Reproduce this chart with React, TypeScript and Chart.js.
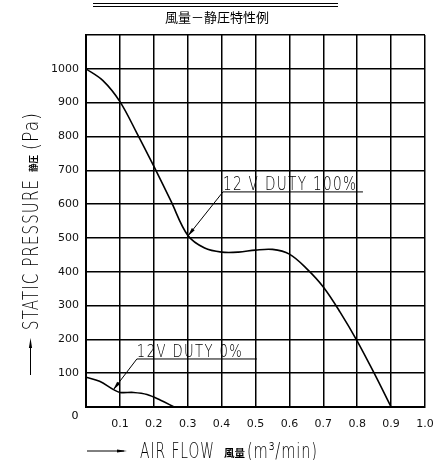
import React, { useEffect, useRef } from 'react';
import { Chart, registerables } from 'chart.js';

Chart.register(...registerables);

const chartTitle = '風量－静圧特性例';
const xTitle = 'AIR FLOW';
const xTitleCJK = '風量';
const xUnit = '(m³/min)';
const yTitle = 'STATIC PRESSURE';
const yTitleCJK = '静圧';
const yUnit = '(Pa)';

const flowFull = [0, 0.05, 0.1, 0.15, 0.2, 0.25, 0.3, 0.35, 0.4, 0.45, 0.5, 0.55, 0.6, 0.65, 0.7, 0.75, 0.8, 0.85, 0.9];
const pressureFull = [1000, 965, 903, 810, 712, 610, 508, 470, 458, 458, 464, 466, 452, 410, 355, 280, 195, 100, 0];

const flowZero = [0, 0.04, 0.08, 0.1, 0.14, 0.18, 0.22, 0.26];
const pressureZero = [88, 76, 52, 43, 43, 37, 20, 0];

// annotation: label, arrow tip (x, y), underline start (x, y), underline end x
const noteLabels = ['12 V DUTY 100%', '12V DUTY 0%'];
const noteTip = [[0.3, 505], [0.08, 50]];
const noteStart = [[0.404, 636], [0.15, 142]];
const noteEndX = [0.817, 0.504];

const xMin = 0, xMax = 1, xStep = 0.1;
const yMin = 0, yMax = 1100, yStep = 100;

const CAD = "200 %spx 'DejaVu Sans', 'Liberation Sans', sans-serif";
const cad = (px: number) => CAD.replace('%s', String(px));
const CJK = "'Noto Sans CJK JP', sans-serif";

function drawText(ctx: CanvasRenderingContext2D, s: string, x: number, y: number, font: string, targetW = 0, align: CanvasTextAlign = 'left', spacing = 0) {
  ctx.save();
  ctx.font = font;
  (ctx as any).letterSpacing = spacing + 'px';
  ctx.textAlign = align;
  ctx.textBaseline = 'alphabetic';
  const m = ctx.measureText(s).width - spacing;
  const sx = targetW > 0 ? targetW / m : 1;
  ctx.translate(x, y);
  ctx.scale(sx, 1);
  ctx.fillText(s, 0, 0);
  ctx.restore();
  return m * sx;
}

function arrowHead(ctx: CanvasRenderingContext2D, fx: number, fy: number, tx: number, ty: number, len: number, half: number) {
  const ang = Math.atan2(ty - fy, tx - fx);
  ctx.beginPath();
  ctx.moveTo(tx, ty);
  ctx.lineTo(tx - len * Math.cos(ang) + half * Math.sin(ang), ty - len * Math.sin(ang) - half * Math.cos(ang));
  ctx.lineTo(tx - len * Math.cos(ang) - half * Math.sin(ang), ty - len * Math.sin(ang) + half * Math.cos(ang));
  ctx.closePath();
  ctx.fill();
}

const decor = {
  id: 'decor',
  afterDraw(chart: any) {
    const { ctx, scales } = chart;
    const xs = scales.x, ys = scales.y;
    ctx.save();
    ctx.fillStyle = '#000';
    ctx.strokeStyle = '#000';

    // title with double rule
    ctx.lineWidth = 1;
    ctx.beginPath();
    ctx.moveTo(93, 3.5); ctx.lineTo(338, 3.5);
    ctx.moveTo(93, 6.5); ctx.lineTo(338, 6.5);
    ctx.stroke();
    drawText(ctx, chartTitle, 217, 22, `13px ${CJK}`, 0, 'center');

    // origin label
    drawText(ctx, '0', xs.left - 11, ys.bottom + 12, "11px 'DejaVu Sans', sans-serif", 0, 'center');

    // x axis title
    const ty = 458;
    ctx.lineWidth = 1;
    ctx.beginPath();
    ctx.moveTo(87, 451); ctx.lineTo(124, 451);
    ctx.stroke();
    arrowHead(ctx, 87, 451, 127, 451, 10, 1.6);
    let cx = 140;
    cx += drawText(ctx, xTitle, cx, ty, cad(21), 74, 'left', 1.5);
    cx += 10;
    cx += drawText(ctx, xTitleCJK, cx, ty - 1, `bold 10px ${CJK}`, 21);
    drawText(ctx, xUnit, cx + 2, ty, cad(21), 70, 'left', 1.2);

    // y axis title (rotated)
    ctx.save();
    ctx.translate(38, 375);
    ctx.rotate(-Math.PI / 2);
    ctx.lineWidth = 1;
    ctx.beginPath();
    ctx.moveTo(0, -7.5); ctx.lineTo(34, -7.5);
    ctx.stroke();
    arrowHead(ctx, 0, -7.5, 37, -7.5, 10, 1.6);
    let ry = 45;
    ry += drawText(ctx, yTitle, ry, 0, cad(21), 150, 'left', 1.5);
    ry += 8;
    ry += drawText(ctx, yTitleCJK, ry, -1, `bold 9px ${CJK}`, 17);
    ry += 5;
    drawText(ctx, yUnit, ry, 0, cad(21), 37, 'left', 1.5);
    ctx.restore();

    // annotations
    const noteW = [133, 105];
    const noteSize = [19, 17];
    for (let i = 0; i < noteLabels.length; i++) {
      const tx = xs.getPixelForValue(noteTip[i][0]);
      const tyy = ys.getPixelForValue(noteTip[i][1]);
      const sx = xs.getPixelForValue(noteStart[i][0]);
      const sy = ys.getPixelForValue(noteStart[i][1]);
      const ex = xs.getPixelForValue(noteEndX[i]);
      ctx.lineWidth = 1;
      ctx.beginPath();
      ctx.moveTo(ex, sy); ctx.lineTo(sx, sy); ctx.lineTo(tx, tyy);
      ctx.stroke();
      arrowHead(ctx, sx, sy, tx, tyy, 9, 1.8);
      drawText(ctx, noteLabels[i], sx, sy - 2, cad(noteSize[i]), noteW[i], 'left', 1.8);
    }
    ctx.restore();
  },
};

export default function App() {
  const ref = useRef<HTMLCanvasElement | null>(null);
  useEffect(() => {
    if (!ref.current) return;
    const chart = new Chart(ref.current, {
      type: 'line',
      data: {
        datasets: [
          {
            label: noteLabels[0],
            data: flowFull.map((x, i) => ({ x, y: pressureFull[i] })),
            borderColor: '#000',
            borderWidth: 1.6,
            pointRadius: 0,
            tension: 0.35,
            fill: false,
          },
          {
            label: noteLabels[1],
            data: flowZero.map((x, i) => ({ x, y: pressureZero[i] })),
            borderColor: '#000',
            borderWidth: 1.6,
            pointRadius: 0,
            tension: 0.35,
            fill: false,
          },
        ],
      },
      options: {
        animation: false,
        responsive: false,
        devicePixelRatio: 1,
        layout: { padding: { top: 35, right: 10, left: 0, bottom: 0 } },
        plugins: { legend: { display: false }, tooltip: { enabled: false }, title: { display: false } },
        scales: {
          x: {
            type: 'linear',
            min: xMin,
            max: xMax,
            ticks: {
              stepSize: xStep,
              padding: 11,
              color: '#111',
              font: { family: "'DejaVu Sans', sans-serif", size: 11 },
              maxRotation: 0,
              autoSkip: false,
              callback: (v: any) => (Math.abs(v) < 1e-9 ? '' : Number(v).toFixed(1)),
            },
            grid: { color: '#000', lineWidth: 1.5, drawTicks: false },
            border: { color: '#000', width: 2 },
            afterFit: (s: any) => { s.height = 53; s.paddingLeft = 0; s.paddingRight = 0; },
          },
          y: {
            type: 'linear',
            min: yMin,
            max: yMax,
            ticks: {
              stepSize: yStep,
              padding: 7,
              color: '#111',
              font: { family: "'DejaVu Sans', sans-serif", size: 11 },
              autoSkip: false,
              callback: (v: any) => (v === yMin || v === yMax ? '' : String(v)),
            },
            grid: { color: '#000', lineWidth: 1.5, drawTicks: false },
            border: { color: '#000', width: 2 },
            afterFit: (s: any) => { s.width = 86; s.paddingTop = 0; s.paddingBottom = 0; },
          },
        },
      },
      plugins: [decor],
    } as any);
    return () => chart.destroy();
  }, []);
  return (
    <div style={{ position: 'fixed', left: 0, top: 0, width: 435, height: 460, background: '#fff' }}>
      <canvas ref={ref} width={435} height={460} style={{ display: 'block', width: 435, height: 460 }} />
    </div>
  );
}
